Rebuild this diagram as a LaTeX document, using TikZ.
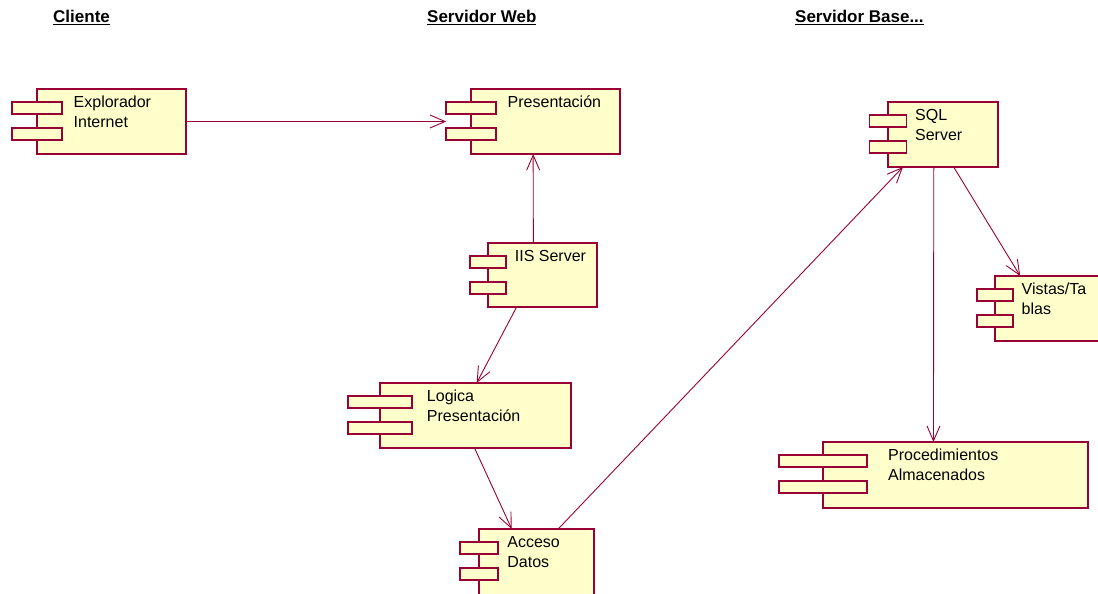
\documentclass[tikz,border=0pt]{standalone}
\usepackage{fontspec}
\setmainfont{Liberation Sans}
\usetikzlibrary{arrows.meta}

\definecolor{roseline}{RGB}{153,0,51}
\definecolor{rosefill}{RGB}{255,255,204}

% component: name, x, y (top left of body), width, height, label
% the named node covers body and tabs, so links run centre to centre
\newcommand{\umlcomp}[6]{%
  \node[compbound, minimum width={#4*7/6}, minimum height=#5] (#1) at ({#2-#4/6},#3) {};
  \draw[compline] (#2,#3) rectangle ++(#4,#5);
  \draw[compline] ({#2-#4/6},{#3+13}) rectangle ++({#4/3},12);
  \draw[compline] ({#2-#4/6},{#3+39}) rectangle ++({#4/3},12);
  \node[compname] (#1-name) at ({#2+0.245*#4},{#3+3.65}) {\strut #6};
}

\begin{document}
\begin{tikzpicture}
    [x=1pt, y=-1pt,
      compbound/.style={rectangle, anchor=north west, inner sep=0pt, outer sep=0pt},
      compline/.style={draw=roseline, fill=rosefill, line width=1.5pt},
      compname/.style={anchor=north west, align=left, inner sep=0pt,
        font=\fontsize{16}{20.5}\selectfont},
      header/.style={anchor=base west, inner sep=0pt,
        font=\fontsize{17}{20}\selectfont\bfseries},
      dep/.style={draw=roseline, line width=0.9pt,
        -{Straight Barb[length=15pt,width=13pt]}},
     ]
    \useasboundingbox (0,0) rectangle (1098,594);
    \clip (0,0) rectangle (1098,594);

    % nodes
    \node[header] (cliente) at (53,23) {\underline{Cliente}};
    \node[header] (web) at (427,23) {\underline{Servidor Web}};
    \node[header] (base) at (795,23) {\underline{Servidor Base...}};

    \umlcomp{expl}{37}{89}{149}{65}{Explorador\\Internet}
    \umlcomp{pres}{471}{89}{149}{65}{Presentación}
    \umlcomp{iis}{488}{243}{109}{64}{IIS Server}
    \umlcomp{logica}{380}{383}{191}{65}{Logica\\Presentación}
    \umlcomp{acceso}{479}{529}{115}{66}{Acceso\\Datos}
    \umlcomp{sql}{888}{102}{110}{65}{SQL\\Server}
    \umlcomp{vistas}{995}{276}{108}{65}{Vistas/Ta\\blas}
    \umlcomp{proc}{823}{442}{265}{66}{Procedimientos\\Almacenados}

    % dependencies
    \draw[dep] (expl) -- (pres);
    \draw[dep] (iis) -- (pres);
    \draw[dep] (iis) -- (logica);
    \draw[dep] (logica) -- (acceso);
    \draw[dep] (acceso) -- (sql);
    \draw[dep] (sql) -- (proc);
    \draw[dep] (sql) -- (vistas);
\end{tikzpicture}
\end{document}
